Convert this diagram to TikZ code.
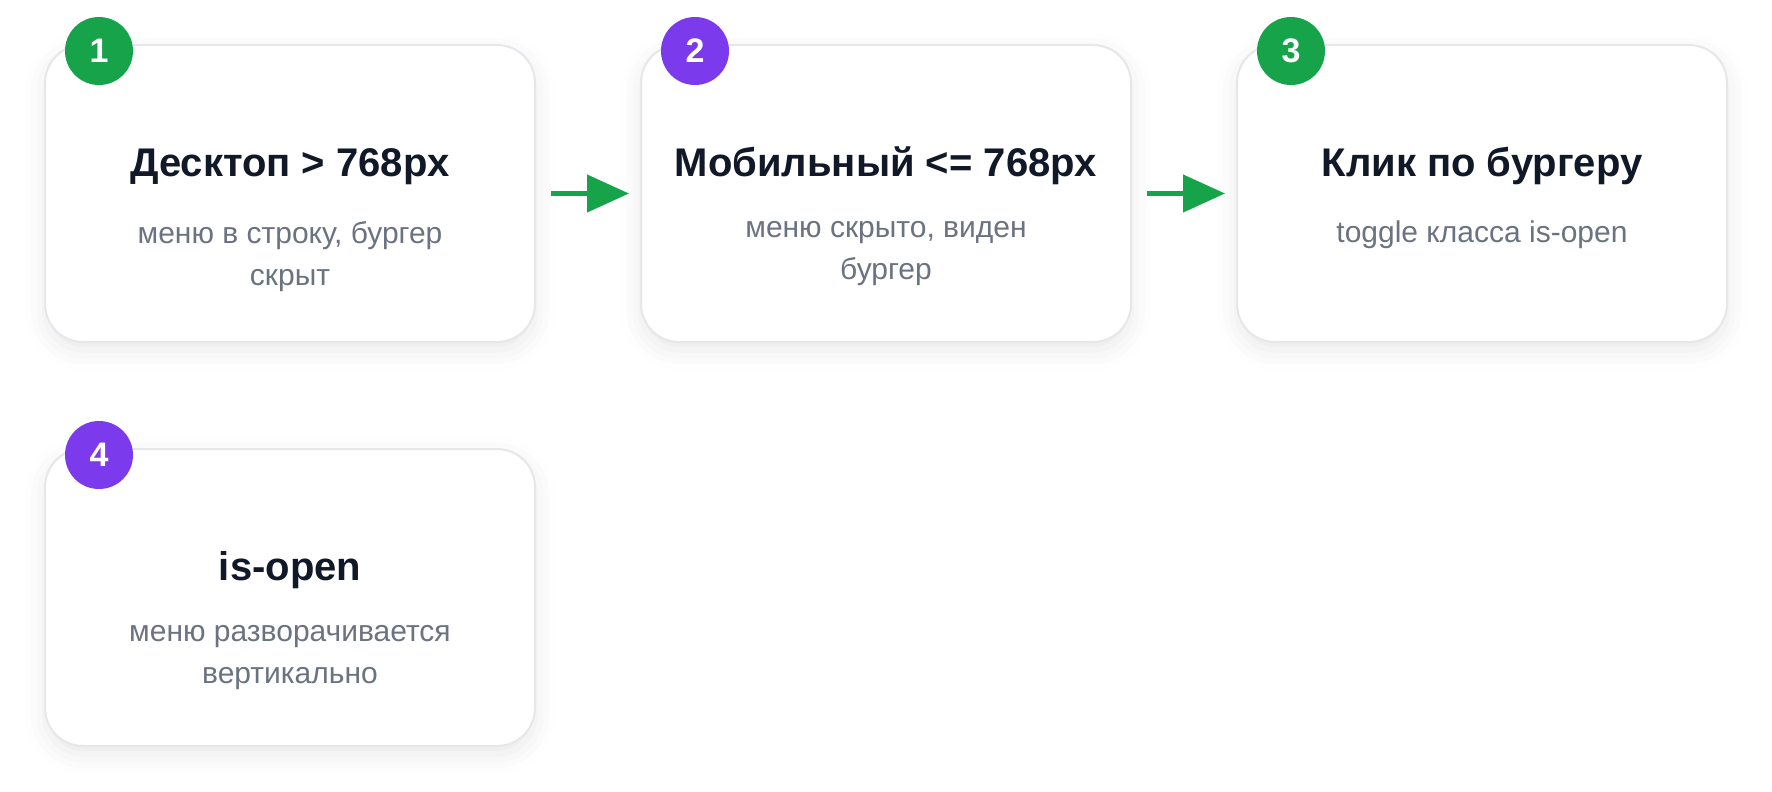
\documentclass[tikz,border=0pt]{standalone}
\usepackage{fontspec}
\setmainfont{Liberation Sans}
\usepackage{tikz}
\usetikzlibrary{positioning, arrows.meta, calc, shadows.blur}
\definecolor{cardline}{HTML}{E5E7EB}
\definecolor{titlecol}{HTML}{111827}
\definecolor{subcol}{HTML}{6B7280}
\definecolor{stepgreen}{HTML}{16A34A}
\definecolor{steppurple}{HTML}{7C3AED}
\tikzset{
	>={Triangle[length=42pt, width=37pt]},
	node distance=106pt,
	card/.style={draw=cardline, line width=2pt, fill=white, rounded corners=38pt,
		minimum width=490pt, minimum height=297pt, inner sep=0pt, outer sep=0pt,
		blur shadow={shadow xshift=0pt, shadow yshift=-8pt, shadow blur radius=20pt, shadow opacity=9}},
	title/.style={font=\fontsize{40}{46}\selectfont\bfseries, text=titlecol, inner sep=0pt, text height=28pt, text depth=9pt},
	subtitle/.style={font=\fontsize{30}{42}\selectfont, text=subcol, align=center, inner sep=0pt, execute at begin node=\strut},
	twolines/.style={yshift=-9pt},
	badge/.style={circle, minimum size=68pt, inner sep=0pt, text=white, font=\fontsize{34}{38}\selectfont\bfseries},
	flow/.style={->, stepgreen, line width=4.5pt, shorten <=16pt, shorten >=12pt},
}

\begin{document}
\begin{tikzpicture}[x=1pt, y=1pt]
	\useasboundingbox (0,0) rectangle (1772,-792);
	\node[card] (c1) at (290,-193.5) {};
	\node[card, right=of c1] (c2) {};
	\node[card, right=of c2] (c3) {};
	\node[card, below=107pt of c1] (c4) {};

	\node[title, below=103pt of c1.north] (t1) {Десктоп > 768px};
	\node[title, below=103pt of c2.north] (t2) {Мобильный <= 768px};
	\node[title, below=103pt of c3.north] (t3) {Клик по бургеру};
	\node[title, below=103pt of c4.north] (t4) {is-open};

	\node[subtitle, twolines, below=27pt of t1] (s1) {меню в строку, бургер\\скрыт};
	\node[subtitle, twolines, below=27pt of t2] (s2) {меню скрыто, виден\\бургер};
	\node[subtitle, below=27pt of t3] (s3) {toggle класса is-open};
	\node[subtitle, twolines, below=27pt of t4] (s4) {меню разворачивается\\вертикально};

	\node[badge, fill=stepgreen] (b1) at ($(c1.north west)+(54,-6)$) {1};
	\node[badge, fill=steppurple] (b2) at ($(c2.north west)+(54,-6)$) {2};
	\node[badge, fill=stepgreen] (b3) at ($(c3.north west)+(54,-6)$) {3};
	\node[badge, fill=steppurple] (b4) at ($(c4.north west)+(54,-6)$) {4};

	\draw[flow] (c1) -- (c2);
	\draw[flow] (c2) -- (c3);
\end{tikzpicture}
\end{document}
